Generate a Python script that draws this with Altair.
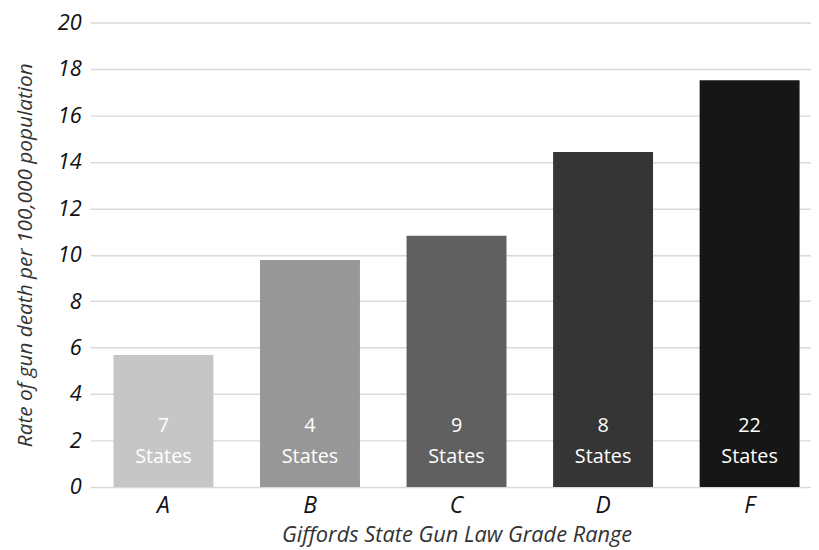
import altair as alt
import pandas as pd

grades = ["A", "B", "C", "D", "F"]
rates = [5.68, 9.77, 10.82, 14.43, 17.51]
state_counts = ["7", "4", "9", "8", "22"]
bar_colors = ["#c6c6c6", "#979797", "#606060", "#353535", "#161616"]
y_ticks = [0, 2, 4, 6, 8, 10, 12, 14, 16, 18, 20]

df = pd.DataFrame({
    "grade": grades,
    "rate": rates,
    "label": [c + "\nStates" for c in state_counts],
})

FONT = "Open Sans"

x_enc = alt.X(
    "grade:N",
    sort=grades,
    title="Giffords State Gun Law Grade Range",
    scale=alt.Scale(range=[0, 740], paddingInner=0.318, paddingOuter=0.159),
    axis=alt.Axis(labelAngle=0, domain=False, ticks=False, grid=False,
                  labelFontSize=23, labelFont=FONT, labelFontStyle="italic",
                  labelColor="#111111", labelPadding=8,
                  titleFontSize=22, titleFont=FONT, titleFontStyle="italic",
                  titleFontWeight="normal", titleColor="#333333", titlePadding=7),
)

bars = alt.Chart(df).mark_bar().encode(
    x=x_enc,
    y=alt.Y(
        "rate:Q",
        title="Rate of gun death per 100,000 population",
        scale=alt.Scale(domain=[0, 20], nice=False),
        axis=alt.Axis(values=y_ticks, domain=False, ticks=False, grid=True,
                      gridColor="#d9d9d9", gridWidth=1.5,
                      labelFontSize=22, labelFont=FONT, labelFontStyle="italic",
                      labelColor="#111111", labelPadding=9,
                      titleFontSize=21, titleFont=FONT, titleFontStyle="italic",
                      titleFontWeight="normal", titleColor="#333333", titlePadding=22),
    ),
    color=alt.Color("grade:N", scale=alt.Scale(domain=grades, range=bar_colors), legend=None),
)

labels = alt.Chart(df).mark_text(
    baseline="bottom", dy=-51, lineBreak="\n", lineHeight=31,
    fontSize=20, font=FONT, color="white",
).encode(
    x=alt.X("grade:N", sort=grades),
    y=alt.datum(0),
    text="label:N",
)

chart = (bars + labels).properties(
    width=728,
    height=469,
    autosize=alt.AutoSizeParams(type="none"),
    padding={"left": 83, "top": 12, "right": 0, "bottom": 60},
).configure_view(stroke=None)

chart.save("out.html", embed_options={"renderer": "svg", "actions": False})
